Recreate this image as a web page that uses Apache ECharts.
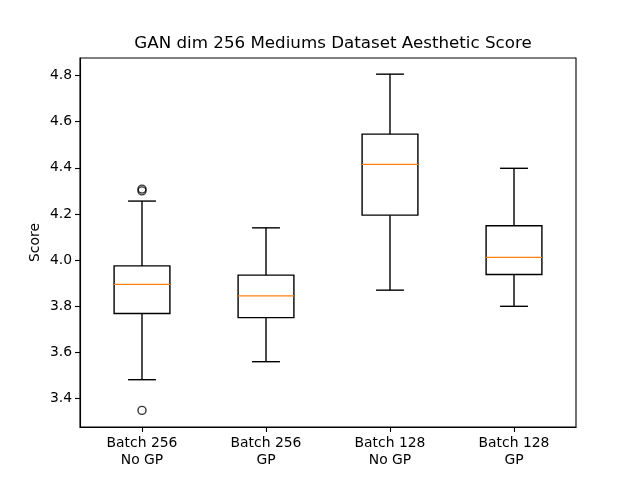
<!DOCTYPE html>
<html>
<head>
<meta charset="utf-8">
<script src="https://cdn.jsdelivr.net/npm/echarts@6/dist/echarts.min.js"></script>
<style>
html,body{margin:0;padding:0;background:#fff;}
#chart{width:640px;height:480px;}
</style>
</head>
<body>
<div id="chart"></div>
<script>
const categories = ['Batch 256\nNo GP', 'Batch 256\nGP', 'Batch 128\nNo GP', 'Batch 128\nGP'];
const whiskerLow  = [3.482, 3.560, 3.870, 3.800];
const q1          = [3.769, 3.751, 4.195, 3.938];
const median      = [3.895, 3.845, 4.415, 4.012];
const q3          = [3.975, 3.935, 4.546, 4.149];
const whiskerHigh = [4.256, 4.140, 4.806, 4.398];
const outlierCategory = [0, 0, 0];
const outlierValue    = [4.308, 4.300, 3.349];
const yTicks = [3.4, 3.6, 3.8, 4.0, 4.2, 4.4, 4.6, 4.8];

const boxData = categories.map((c, i) => [i, whiskerLow[i], q1[i], median[i], q3[i], whiskerHigh[i]]);
const outlierData = outlierCategory.map((c, i) => [c, outlierValue[i]]);

const FONT = 'DejaVu Sans';
const LW = 1.4;

function renderBox(params, api) {
  const x = api.value(0);
  const pLow = api.coord([x, api.value(1)]);
  const pQ1 = api.coord([x, api.value(2)]);
  const pMed = api.coord([x, api.value(3)]);
  const pQ3 = api.coord([x, api.value(4)]);
  const pHigh = api.coord([x, api.value(5)]);
  const band = api.size([1, 0])[0];
  const bw = band * 0.45;
  const cx = pMed[0];
  const half = bw / 2;
  const capHalf = bw / 4;
  const stroke = {stroke: '#000', lineWidth: LW, fill: null};
  return {
    type: 'group',
    children: [
      {type: 'line', shape: {x1: cx, y1: pQ3[1], x2: cx, y2: pHigh[1]}, style: stroke},
      {type: 'line', shape: {x1: cx, y1: pQ1[1], x2: cx, y2: pLow[1]}, style: stroke},
      {type: 'line', shape: {x1: cx - capHalf, y1: pHigh[1], x2: cx + capHalf, y2: pHigh[1]}, style: stroke},
      {type: 'line', shape: {x1: cx - capHalf, y1: pLow[1], x2: cx + capHalf, y2: pLow[1]}, style: stroke},
      {type: 'rect', shape: {x: cx - half, y: pQ3[1], width: bw, height: pQ1[1] - pQ3[1]}, style: {stroke: '#000', lineWidth: LW, fill: 'rgba(0,0,0,0)'}},
      {type: 'line', shape: {x1: cx - half, y1: pMed[1], x2: cx + half, y2: pMed[1]}, style: {stroke: '#ff7f0e', lineWidth: LW}}
    ]
  };
}

const chart = echarts.init(document.getElementById('chart'), null, {renderer: 'canvas'});
chart.setOption({
  animation: false,
  backgroundColor: '#fff',
  title: {
    text: 'GAN dim 256 Mediums Dataset Aesthetic Score',
    left: 328, textAlign: 'center', top: 30,
    textStyle: {fontFamily: FONT, fontSize: 16.7, fontWeight: 'normal', color: '#000'}
  },
  grid: {left: 80, right: 64, top: 58, bottom: 53, show: true, borderColor: '#000', borderWidth: 1.1, backgroundColor: 'rgba(0,0,0,0)'},
  xAxis: {
    type: 'category',
    data: categories,
    boundaryGap: true,
    axisLine: {show: true, lineStyle: {color: '#000', width: 1.1}},
    axisTick: {show: true, alignWithLabel: true, length: 5, lineStyle: {color: '#000', width: 1.1}},
    axisLabel: {fontFamily: FONT, fontSize: 13.9, color: '#000', margin: 8, lineHeight: 17},
    splitLine: {show: false}
  },
  yAxis: {
    type: 'value',
    min: 3.277, max: 4.876,
    name: 'Score', nameLocation: 'middle', nameGap: 38, nameMoveOverlap: false,
    nameTextStyle: {fontFamily: FONT, fontSize: 13.9, color: '#000'},
    axisLine: {show: true, lineStyle: {color: '#000', width: 1.1}},
    axisTick: {show: true, length: 5, customValues: yTicks, lineStyle: {color: '#000', width: 1.1}},
    axisLabel: {fontFamily: FONT, fontSize: 13.9, color: '#000', margin: 8, customValues: yTicks, formatter: v => v.toFixed(1)},
    splitLine: {show: false}
  },
  series: [
    {type: 'custom', renderItem: renderBox, data: boxData, encode: {x: 0, y: [1, 2, 3, 4, 5]}, z: 2},
    {type: 'scatter', data: outlierData, symbol: 'circle', symbolSize: 8,
     itemStyle: {color: 'rgba(0,0,0,0)', borderColor: '#000', borderWidth: LW}, z: 3}
  ]
});
</script>
</body>
</html>
